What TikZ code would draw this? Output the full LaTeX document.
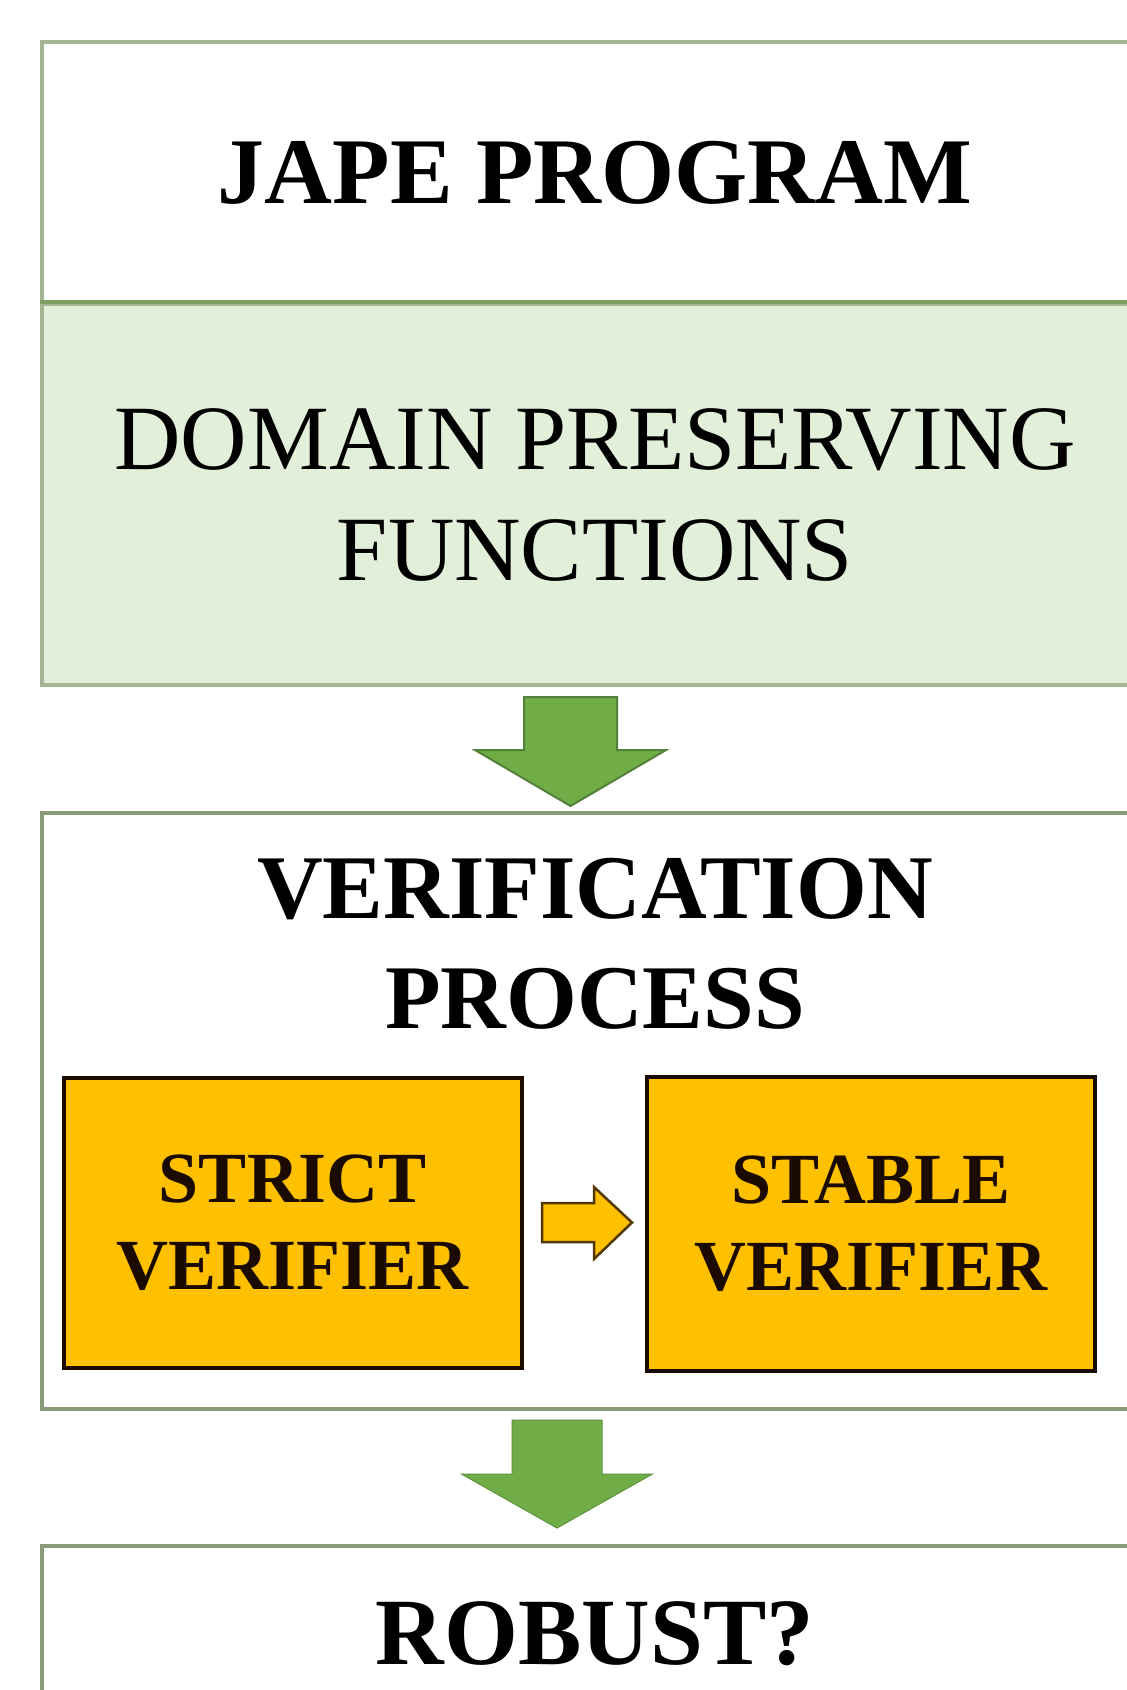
\documentclass[tikz,border=0pt]{standalone}
\usepackage{fontspec}
\setmainfont{Liberation Serif}
\usetikzlibrary{calc}
\definecolor{bordA}{HTML}{A3B593}
\definecolor{bordB}{HTML}{8A9B79}
\definecolor{divid}{HTML}{7E9E64}
\definecolor{lgreen}{HTML}{E2EFD9}
\definecolor{agreen}{HTML}{70AD47}
\definecolor{agreenD}{HTML}{54803A}
\definecolor{orng}{HTML}{FFC000}
\definecolor{dtext}{HTML}{1A0A00}
\tikzset{
  bigbox/.style={draw=bordA, line width=3.5pt, minimum width=1106pt, inner sep=0pt, align=center},
  verbox/.style={draw=bordB, line width=3.5pt, fill=white, minimum width=1106pt, inner sep=0pt},
  subbox/.style={draw=dtext, fill=orng, line width=3.5pt, inner sep=0pt, align=center, text=dtext,
                 font=\fontsize{72}{87}\selectfont\bfseries},
  blockarrow/.style={fill=agreen, draw=agreenD, line width=2pt, line join=miter},
  smallarrow/.style={fill=orng, draw=dtext!75!orng, line width=2.5pt, line join=miter},
}
\begin{document}
\begin{tikzpicture}[x=1pt,y=-1pt]
\useasboundingbox (0,0) rectangle (1127,1690);
\clip (0,0) rectangle (1127,1690);
\fill[white] (0,0) rectangle (1127,1690);
% top box
\node[bigbox, fill=white, minimum height=262pt, font=\fontsize{94}{110}\selectfont\bfseries] (jape) at (595,173) {JAPE PROGRAM};
\node[bigbox, fill=lgreen, minimum height=381pt, font=\fontsize{92}{111}\selectfont] (domain) at (595,494.5) {DOMAIN PRESERVING\\FUNCTIONS};
\draw[divid, line width=4pt] (domain.north west) -- (domain.north east);
% verification
\node[verbox, minimum height=596pt] (verif) at (595,1111) {};
\node[align=center, inner sep=0pt, font=\fontsize{91}{110}\selectfont\bfseries] (veriftitle) at (595,944) {VERIFICATION\\PROCESS};
\node[subbox, minimum width=458pt, minimum height=290pt] (strict) at (293,1223) {STRICT\\VERIFIER};
\node[subbox, minimum width=448pt, minimum height=294pt] (stable) at (871,1224) {STABLE\\VERIFIER};
% robust
\node[verbox, minimum height=176pt, font=\fontsize{95}{110}\selectfont\bfseries] (robust) at (595,1634) {ROBUST?};
% green arrow 1
\coordinate (a1) at (570.5,697);
\draw[blockarrow] ($(a1)+(-46.5,0)$) -- ($(a1)+(46.5,0)$) -- ($(a1)+(46.5,53)$) -- ($(a1)+(95.5,53)$)
  -- ($(a1)+(0,109)$) -- ($(a1)+(-95.5,53)$) -- ($(a1)+(-46.5,53)$) -- cycle;
% green arrow 2
\coordinate (a2) at (557,1420);
\draw[blockarrow, draw=agreen!85!black, line width=1pt] ($(a2)+(-45,0)$) -- ($(a2)+(45,0)$) -- ($(a2)+(45,54)$) -- ($(a2)+(95.5,54)$)
  -- ($(a2)+(0,108)$) -- ($(a2)+(-95.5,54)$) -- ($(a2)+(-45,54)$) -- cycle;
% small arrow
\coordinate (s1) at (542,1222.5);
\draw[smallarrow] ($(s1)+(0,-19.5)$) -- ($(s1)+(52,-19.5)$) -- ($(s1)+(52,-35.5)$) -- ($(s1)+(90,0)$)
  -- ($(s1)+(52,36.5)$) -- ($(s1)+(52,19.5)$) -- ($(s1)+(0,19.5)$) -- cycle;
\end{tikzpicture}
\end{document}
